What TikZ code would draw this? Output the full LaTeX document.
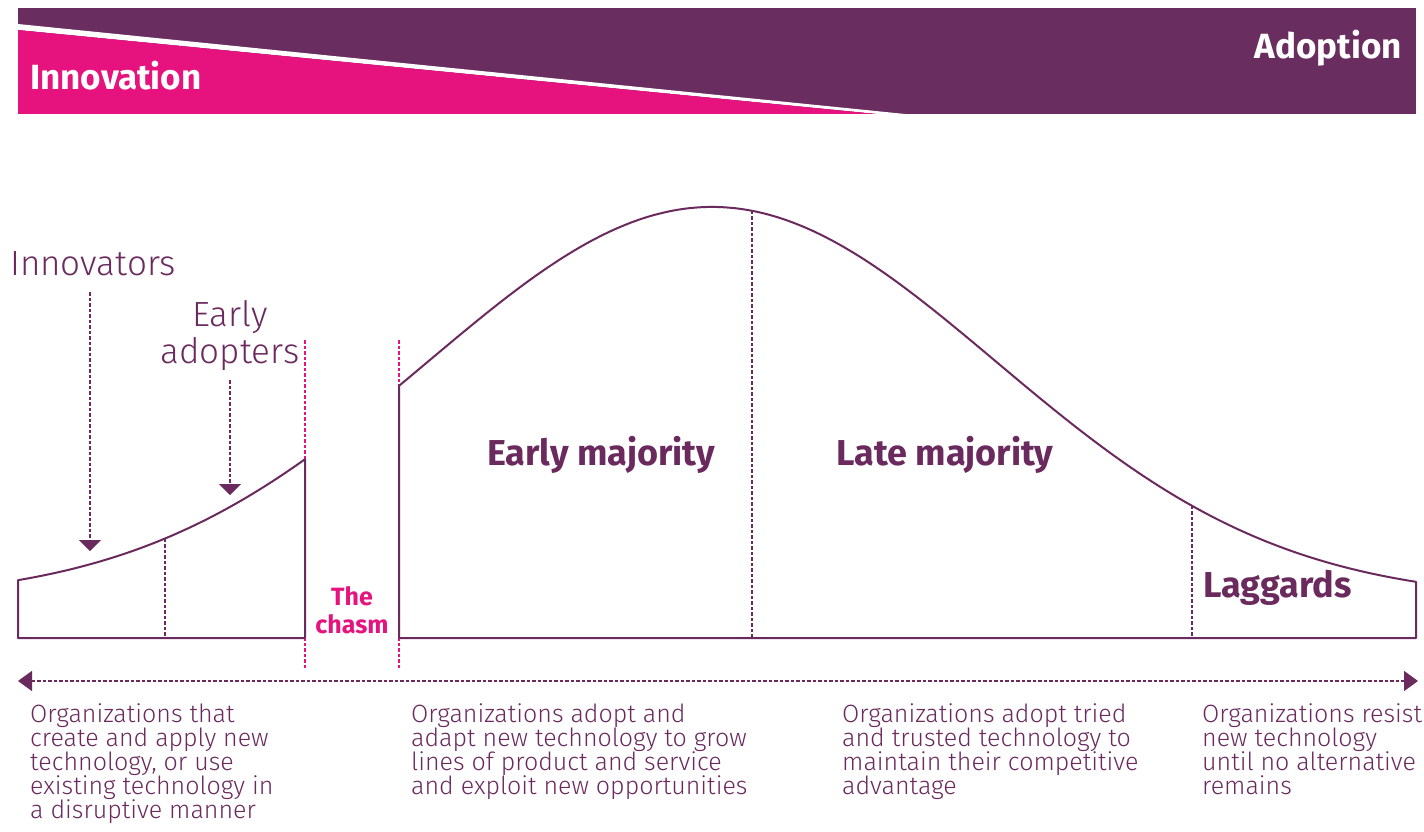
\documentclass[tikz,border=0pt]{standalone}
\usepackage{fontspec}
\setmainfont{Fira Sans}
\newfontfamily\lightfont{Fira Sans Light}
\usetikzlibrary{arrows.meta}
\definecolor{banpurple}{HTML}{6A2D60}
\definecolor{banpink}{HTML}{E6137E}
\definecolor{ink}{HTML}{6B2A5E}
\newcommand\firstln[1]{\rule{0pt}{#1}}
\pgfmathdeclarefunction{bell}{1}{\pgfmathparse{600-393*exp(-0.5*((#1-712)/284)^2)}}
\tikzset{
  curveline/.style={draw=ink, line width=2pt, line join=round},
  dline/.style={draw=ink, line width=1.4pt, dash pattern=on 3.5pt off 2pt},
  pdline/.style={draw=banpink, line width=1.4pt, dash pattern=on 3.5pt off 2pt},
  darrow/.style={dline, -{Triangle[width=22pt,length=11pt]}},
  bothends/.style={dline, {Triangle[width=20pt,length=14pt]}-{Triangle[width=20pt,length=14pt]}},
  lbl/.style={text=ink, inner sep=0pt, font=\lightfont\fontsize{35}{37}\selectfont},
  boldlbl/.style={text=ink, inner sep=0pt, font=\bfseries\fontsize{36}{40}\selectfont},
  bodytxt/.style={text=ink, inner sep=0pt, align=left, font=\lightfont\fontsize{25}{24}\selectfont},
  bantxt/.style={text=white, inner sep=0pt, font=\bfseries\fontsize{35}{40}\selectfont},
  chasmtxt/.style={text=banpink, inner sep=0pt, align=center, font=\bfseries\fontsize{25}{28}\selectfont}
}
\begin{document}
\begin{tikzpicture}[x=1pt,y=-1pt]
\useasboundingbox (0,0) rectangle (1424,832);
% banner
\fill[banpurple] (18,8) rectangle (1416,114);
\fill[white] (18,24) -- (905,114) -- (877,114) -- (18,30) -- cycle;
\fill[banpink] (18,30) -- (877,114) -- (18,114) -- cycle;
\node[bantxt, anchor=base west] (innovation) at (30,90) {Innovation};
\node[bantxt, anchor=base east] (adoption) at (1402,59) {Adoption};
% chasm boundaries
\coordinate (c1t) at (305,340); \coordinate (c1b) at (305,668);
\coordinate (c2t) at (399,340); \coordinate (c2b) at (399,668);
\draw[pdline] (c1t) -- (c1b);
\draw[pdline] (c2t) -- (c2b);
% left bell part
\draw[curveline, fill=white] (305,638) -- (18,638) -- (18,{bell(18)})
  -- plot[domain=18:305, samples=80] (\x,{bell(\x)}) -- (305,638);
% right bell part
\draw[curveline, fill=white] (399,638) -- (399,{bell(399)})
  -- plot[domain=399:1416, samples=240] (\x,{bell(\x)}) -- (1416,638) -- cycle;
% dashed dividers
\coordinate (d1t) at (165,{bell(165)}); \coordinate (d1b) at (165,637);
\coordinate (d2t) at (752,{bell(752)}); \coordinate (d2b) at (752,637);
\coordinate (d3t) at (1192,{bell(1192)}); \coordinate (d3b) at (1192,637);
\draw[dline] (d1t) -- (d1b);
\draw[dline] (d2t) -- (d2b);
\draw[dline] (d3t) -- (d3b);
% labels
\node[lbl, anchor=base west] (innovators) at (10,275) {Innovators};
\node[lbl, align=center, anchor=north] (early) at (230,296) {\firstln{30pt}Early\\adopters};
\coordinate (ia1) at (90,292); \coordinate (ia2) at (90,551);
\coordinate (ea1) at (230,380); \coordinate (ea2) at (230,495);
\draw[darrow] (ia1) -- (ia2);
\draw[darrow] (ea1) -- (ea2);
\node[boldlbl, anchor=base west] (em) at (487,465) {Early majority};
\node[boldlbl, anchor=base west] (lm) at (836,465) {Late majority};
\node[boldlbl, anchor=base west] (lg) at (1203,597) {Laggards};
\node[chasmtxt, anchor=north] (chasm) at (352,583) {\firstln{22pt}The\\chasm};
% bottom axis
\coordinate (axl) at (18,681); \coordinate (axr) at (1418,681);
\draw[bothends] (axl) -- (axr);
% descriptions
\node[bodytxt, anchor=north west] (t1) at (30,702) {\firstln{20pt}Organizations that\\create and apply new\\technology, or use\\existing technology in\\a disruptive manner};
\node[bodytxt, anchor=north west] (t2) at (411,702) {\firstln{20pt}Organizations adopt and\\adapt new technology to grow\\lines of product and service\\and exploit new opportunities};
\node[bodytxt, anchor=north west] (t3) at (842,702) {\firstln{20pt}Organizations adopt tried\\and trusted technology to\\maintain their competitive\\advantage};
\node[bodytxt, anchor=north west] (t4) at (1202,702) {\firstln{20pt}Organizations resist\\new technology\\until no alternative\\remains};
\end{tikzpicture}
\end{document}
